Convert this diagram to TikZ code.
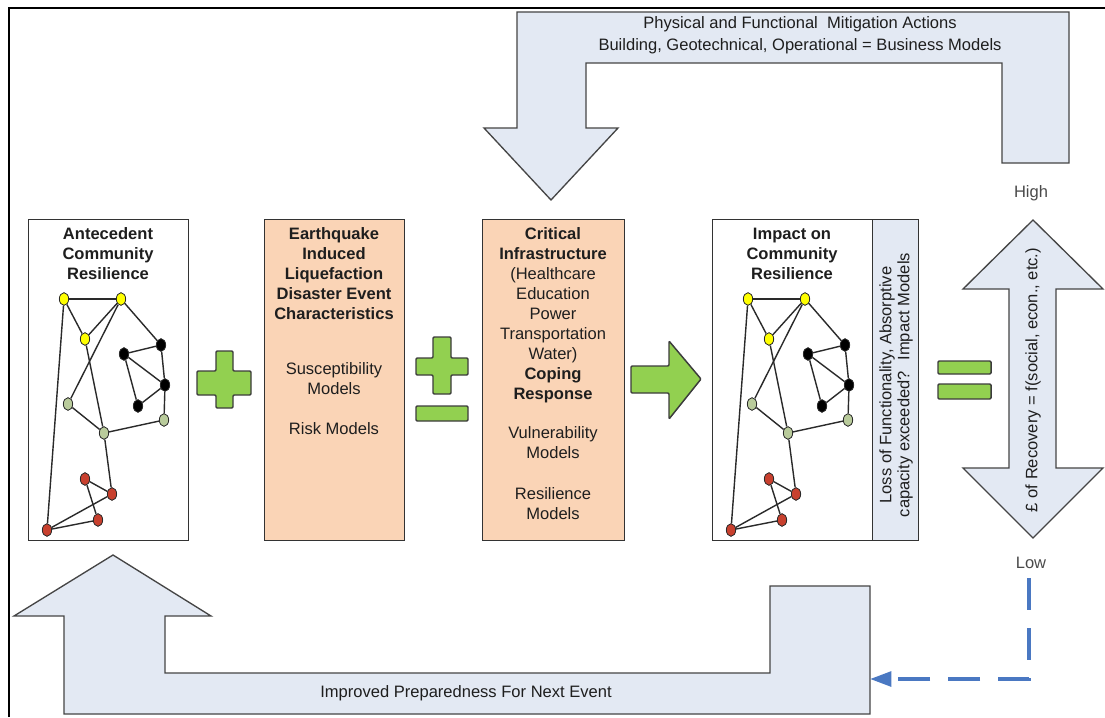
\documentclass[tikz,border=0pt]{standalone}
\usepackage{fontspec}
\setmainfont{Liberation Sans}
\usetikzlibrary{shapes.geometric,arrows.meta}

\definecolor{peach}{HTML}{FAD4B6}
\definecolor{paleblue}{HTML}{E3E9F3}
\definecolor{signgreen}{HTML}{92D050}
\definecolor{signline}{HTML}{3C3C3C}
\definecolor{arrowline}{HTML}{454545}
\definecolor{boxline}{HTML}{333333}
\definecolor{edgegray}{HTML}{2A2A2A}
\definecolor{inkc}{HTML}{1E1E1E}
\definecolor{softink}{HTML}{4A4A4A}
\definecolor{dashblue}{HTML}{4A78C2}
\definecolor{nyellow}{HTML}{FFFF00}
\definecolor{nsage}{HTML}{B9CB9B}
\definecolor{nred}{HTML}{C8402E}

\newcommand\boxfont{\fontsize{12.4pt}{15pt}\selectfont}
\newcommand\topln{\rule{0pt}{9.5pt}}

% community network: #1 = name prefix, #2 = horizontal offset
\newcommand\communitynet[2]{%
  \node[netnode, fill=nyellow] (#1y1) at ({64+#2},299) {};
  \node[netnode, fill=nyellow] (#1y2) at ({121+#2},299) {};
  \node[netnode, fill=nyellow] (#1y3) at ({85+#2},339) {};
  \node[netnode, fill=black]   (#1b1) at ({161+#2},345) {};
  \node[netnode, fill=black]   (#1b2) at ({124+#2},354) {};
  \node[netnode, fill=black]   (#1b3) at ({165+#2},385) {};
  \node[netnode, fill=black]   (#1b4) at ({138+#2},406) {};
  \node[netnode, fill=nsage]   (#1g1) at ({68+#2},404) {};
  \node[netnode, fill=nsage]   (#1g2) at ({104+#2},433) {};
  \node[netnode, fill=nsage]   (#1g3) at ({164+#2},420) {};
  \node[netnode, fill=nred]    (#1r1) at ({85+#2},479) {};
  \node[netnode, fill=nred]    (#1r2) at ({112+#2},494) {};
  \node[netnode, fill=nred]    (#1r3) at ({98+#2},520) {};
  \node[netnode, fill=nred]    (#1r4) at ({47+#2},530) {};
  \draw[netedge] (#1y1) -- (#1y2);
  \draw[netedge] (#1y1) -- (#1y3);
  \draw[netedge] (#1y2) -- (#1y3);
  \draw[netedge] (#1y1) -- (#1r4);
  \draw[netedge] (#1y2) -- (#1g1);
  \draw[netedge] (#1y2) -- (#1b1);
  \draw[netedge] (#1y3) -- (#1g2);
  \draw[netedge] (#1g2) -- (#1r2);
  \draw[netedge] (#1g1) -- (#1g2);
  \draw[netedge] (#1g2) -- (#1g3);
  \draw[netedge] (#1b1) -- (#1b3);
  \draw[netedge] (#1b3) -- (#1g3);
  \draw[netedge] (#1b2) -- (#1b1);
  \draw[netedge] (#1b2) -- (#1b3);
  \draw[netedge] (#1b2) -- (#1b4);
  \draw[netedge] (#1b4) -- (#1b3);
  \draw[netedge] (#1r1) -- (#1r2);
  \draw[netedge] (#1r1) -- (#1r3);
  \draw[netedge] (#1r2) -- (#1r4);
  \draw[netedge] (#1r3) -- (#1r4);
}

\begin{document}
\begin{tikzpicture}[x=0.75pt, y=-0.75pt,
  bigarrow/.style={draw=arrowline, fill=paleblue, line width=1pt, line join=miter},
  greensign/.style={draw=signline, fill=signgreen, line width=1.1pt, rounded corners=0.8pt},
  panel/.style={draw=boxline, line width=1pt, inner sep=0pt, anchor=north west, minimum height=240.75pt},
  netnode/.style={ellipse, draw=edgegray, line width=0.6pt, minimum width=7pt, minimum height=9.5pt, inner sep=0pt},
  netedge/.style={draw=edgegray, line width=1.05pt},
  txt/.style={inner sep=0pt, align=center, text=inkc, font=\boxfont},
  headtxt/.style={txt, anchor=north, font=\boxfont\bfseries},
  bodytxt/.style={txt, anchor=north},
  lbl/.style={inner sep=0pt, text=softink, font=\boxfont}
]
\useasboundingbox (0,0) rectangle (1105,717);
\fill[white] (0,0) rectangle (1105,717);

% frame edges
\draw[line width=1.5pt, black] (9,717) -- (9,8) -- (1105,8);

% mitigation feedback arrow (top)
\draw[bigarrow] (517,12) -- (1069,12) -- (1069,163) -- (1002,163) -- (1002,63)
  -- (586,63) -- (586,128) -- (618,128) -- (551,200) -- (484,128) -- (517,128) -- cycle;
\node[txt, anchor=north, font=\fontsize{12.4pt}{16.5pt}\selectfont] (mitig) at (800,15.3)
  {\topln Physical and Functional\ \ Mitigation Actions\\Building, Geotechnical, Operational = Business Models};

% preparedness feedback arrow (bottom)
\draw[bigarrow] (113,555) -- (211,616) -- (165,616) -- (165,673) -- (770,673) -- (770,586)
  -- (870,586) -- (870,714) -- (64,714) -- (64,616) -- (14,616) -- cycle;
\node[txt] (prep) at (466,693) {Improved Preparedness For Next Event};

% stage boxes
\node[panel, fill=white, minimum width=120pt] (antec) at (28,219) {};
\node[panel, fill=peach, minimum width=105pt] (quake) at (264,219) {};
\node[panel, fill=peach, minimum width=106.5pt] (infra) at (482,219) {};
\node[panel, fill=white, minimum width=120pt] (impact) at (712,219) {};
\node[panel, fill=paleblue, minimum width=34.5pt] (lossbox) at (872,219) {};

\node[headtxt] (antecT) at (108,226.3) {\topln Antecedent\\Community\\Resilience};
\node[headtxt] (quakeT) at (334,226.3) {\topln Earthquake\\Induced\\Liquefaction\\Disaster Event\\Characteristics};
\node[bodytxt] (quakeM) at (334,361.3) {\topln Susceptibility\\Models\\[15pt]Risk Models};
\node[bodytxt] (infraT) at (553,226.3) {\topln\textbf{Critical}\\\textbf{Infrastructure}\\(Healthcare\\Education\\Power\\Transportation\\Water)\\\textbf{Coping}\\\textbf{Response}};
\node[bodytxt] (infraM) at (553,425.3) {\topln Vulnerability\\Models\\[15.75pt]Resilience\\Models};
\node[headtxt] (impactT) at (792,226.3) {\topln Impact on\\Community\\Resilience};
\node[txt, rotate=90, font=\fontsize{12.4pt}{13.5pt}\selectfont] (lossT) at (896,385)
  {Loss of Functionality, Absorptive\\capacity exceeded?\hspace{8pt}Impact Models};

% community networks before and after the event
\communitynet{a}{0}
\communitynet{i}{684}

% operators between the stages
\draw[greensign] (216,351) -- (233,351) -- (233,371) -- (251,371) -- (251,395) -- (233,395)
  -- (233,408) -- (216,408) -- (216,395) -- (197,395) -- (197,371) -- (216,371) -- cycle;
\draw[greensign] (433,337) -- (451,337) -- (451,358) -- (468,358) -- (468,375) -- (451,375)
  -- (451,394) -- (433,394) -- (433,375) -- (416,375) -- (416,358) -- (433,358) -- cycle;
\draw[greensign] (416,406) rectangle (468,421);
\draw[greensign] (631,366) -- (669,366) -- (669,341) -- (701,379) -- (669,419) -- (669,393) -- (631,393) -- cycle;
\draw[greensign] (938,361) rectangle (991,374);
\draw[greensign] (938,384) rectangle (991,399);

% cost of recovery scale
\node[lbl] (high) at (1031,193) {High};
\node[lbl] (low) at (1031,563) {Low};
\draw[bigarrow] (1033,220) -- (1103,289) -- (1056,289) -- (1056,468) -- (1103,468) -- (1033,538)
  -- (963,468) -- (1009,468) -- (1009,289) -- (963,289) -- cycle;
\node[txt, rotate=90] (recov) at (1033,380) {£ of Recovery = f(social, econ., etc.)};

% low cost feeds back into preparedness
\coordinate (lowfoot) at (1029,578);
\coordinate (dashcorner) at (1029,679);
\coordinate (prepend) at (870,679);
\draw[dashblue, line width=2.8pt, dash pattern=on 24pt off 13.5pt,
  -{Triangle[length=16pt,width=11pt]}] (lowfoot) -- (dashcorner) -- (prepend);
\end{tikzpicture}
\end{document}
